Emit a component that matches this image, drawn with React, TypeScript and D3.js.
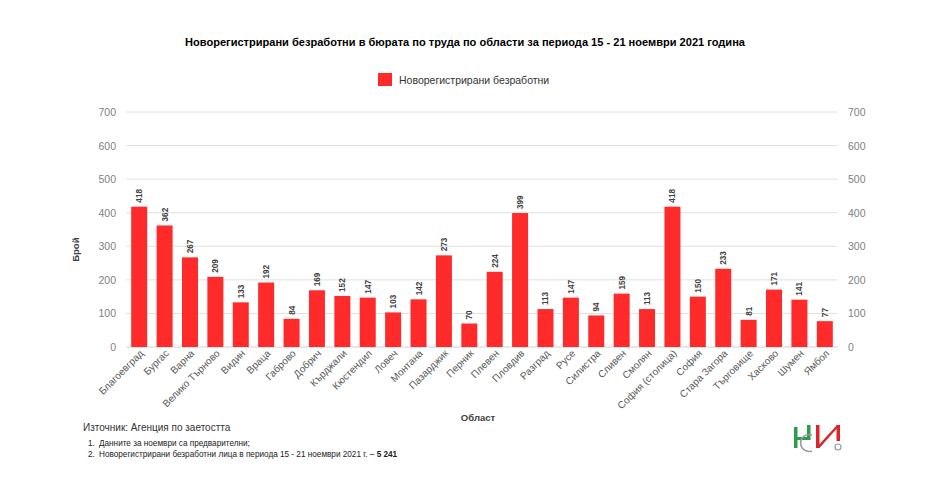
import React from "react";
import * as d3 from "d3";

const categories = [
  "Благоевград", "Бургас", "Варна", "Велико Търново", "Видин", "Враца", "Габрово",
  "Добрич", "Кърджали", "Кюстендил", "Ловеч", "Монтана", "Пазарджик", "Перник",
  "Плевен", "Пловдив", "Разград", "Русе", "Силистра", "Сливен", "Смолян",
  "София (столица)", "София", "Стара Загора", "Търговище", "Хасково", "Шумен", "Ямбол",
];
const values = [
  418, 362, 267, 209, 133, 192, 84, 169, 152, 147, 103, 142, 273, 70, 224, 399,
  113, 147, 94, 159, 113, 418, 150, 233, 81, 171, 141, 77,
];
const yTicks = [0, 100, 200, 300, 400, 500, 600, 700];

const title = "Новорегистрирани безработни в бюрата по труда по области за периода 15 - 21 ноември 2021 година";
const seriesName = "Новорегистрирани безработни";
const yTitle = "Брой";
const xTitle = "Област";
const source = "Източник: Агенция по заетостта";
const note1 = "Данните за ноември  са предварителни;";
const note2a = "Новорегистрирани безработни лица в периода 15 - 21 ноември 2021 г. – ";
const note2b = "5 241";

const W = 931;
const H = 494;
const FONT = "'Liberation Sans', Arial, sans-serif";
const RED = "#ff2a2a";

export default function App() {
  const x = d3
    .scaleBand<string>()
    .domain(categories)
    .range([126.5, 837.5])
    .paddingInner(0.37)
    .paddingOuter(0.185);
  const y = d3.scaleLinear().domain([0, 700]).range([347, 112]);
  const bw = x.bandwidth();

  return (
    <svg
      width={W}
      height={H}
      style={{ position: "absolute", left: 0, top: 0, background: "#fff" }}
      fontFamily={FONT}
    >
      <rect x={0} y={0} width={W} height={H} fill="#fff" />
      {/* title */}
      <text x={465} y={46} textAnchor="middle" fontSize={11.5} fontWeight="bold" fill="#000" textLength={560} lengthAdjust="spacingAndGlyphs">
        {title}
      </text>
      {/* legend */}
      <rect x={378} y={73} width={14} height={13} fill={RED} />
      <text x={399} y={83.5} fontSize={10.5} fill="#333">
        {seriesName}
      </text>
      {/* gridlines */}
      {yTicks.map((t) => (
        <line key={"g" + t} x1={126.5} x2={837.5} y1={y(t)} y2={y(t)} stroke={t === 0 ? "#d0d0d0" : "#e0e0e0"} strokeWidth={1} />
      ))}
      {/* left ticks */}
      {yTicks.map((t) => (
        <text key={"l" + t} x={116} y={y(t) + 4} textAnchor="end" fontSize={10.5} fill="#7f7f7f">
          {t}
        </text>
      ))}
      {/* right ticks */}
      {yTicks.map((t) => (
        <text key={"r" + t} x={848} y={y(t) + 4} textAnchor="start" fontSize={10.5} fill="#7f7f7f">
          {t}
        </text>
      ))}
      {/* y title */}
      <text transform={`translate(79,${y(290)}) rotate(-90)`} textAnchor="middle" fontSize={9.5} fontWeight="bold" fill="#404040">
        {yTitle}
      </text>
      {/* bars */}
      {categories.map((c, i) => (
        <rect key={"b" + c} x={x(c)!} y={y(values[i])} width={bw} height={y(0) - y(values[i])} fill={RED} />
      ))}
      {/* value labels */}
      {categories.map((c, i) => {
        const cx = x(c)! + bw / 2;
        const ty = y(values[i]) - 4;
        return (
          <text
            key={"v" + c}
            transform={`translate(${cx + 3},${ty}) rotate(-90)`}
            textAnchor="start"
            fontSize={8.2}
            fontWeight="bold"
            fill="#404040"
          >
            {values[i]}
          </text>
        );
      })}
      {/* x labels */}
      {categories.map((c) => {
        const cx = x(c)! + bw / 2;
        return (
          <text
            key={"x" + c}
            transform={`translate(${cx + 5},${354}) rotate(-45)`}
            textAnchor="end"
            fontSize={10}
            fill="#595959"
          >
            {c}
          </text>
        );
      })}
      {/* x title */}
      <text x={478} y={421} textAnchor="middle" fontSize={9.5} fontWeight="bold" fill="#404040">
        {xTitle}
      </text>
      {/* source and notes */}
      <text x={83} y={431} fontSize={10} fill="#333">
        {source}
      </text>
      <text x={88} y={446} fontSize={8.2} fill="#222">
        <tspan>1.</tspan>
        <tspan x={99}>{note1}</tspan>
      </text>
      <text x={88} y={457} fontSize={8.2} fill="#222">
        <tspan>2.</tspan>
        <tspan x={99}>{note2a}</tspan>
        <tspan fontWeight="bold">{note2b}</tspan>
      </text>
      {/* logo */}
      <g>
        <rect x={794} y={427} width={3.5} height={21} fill="#2e9b4a" />
        <rect x={794} y={437} width={15} height={3} fill="#2e9b4a" />
        <rect x={807} y={425} width={3.5} height={15} fill="#2e9b4a" />
        <path d="M 812 435 A 8.5 8.5 0 1 0 812 451" fill="none" stroke="#9a9a9a" strokeWidth={1.6} />
        <rect x={816} y={425} width={3.5} height={23} fill="#d9262c" />
        <path d="M 816 448 L 837 425 L 840 425 L 819.5 448 Z" fill="#d9262c" />
        <rect x={836.5} y={425} width={3.5} height={16} fill="#d9262c" />
        <circle cx={838} cy={447} r={3} fill="none" stroke="#9a9a9a" strokeWidth={1.2} />
      </g>
    </svg>
  );
}
